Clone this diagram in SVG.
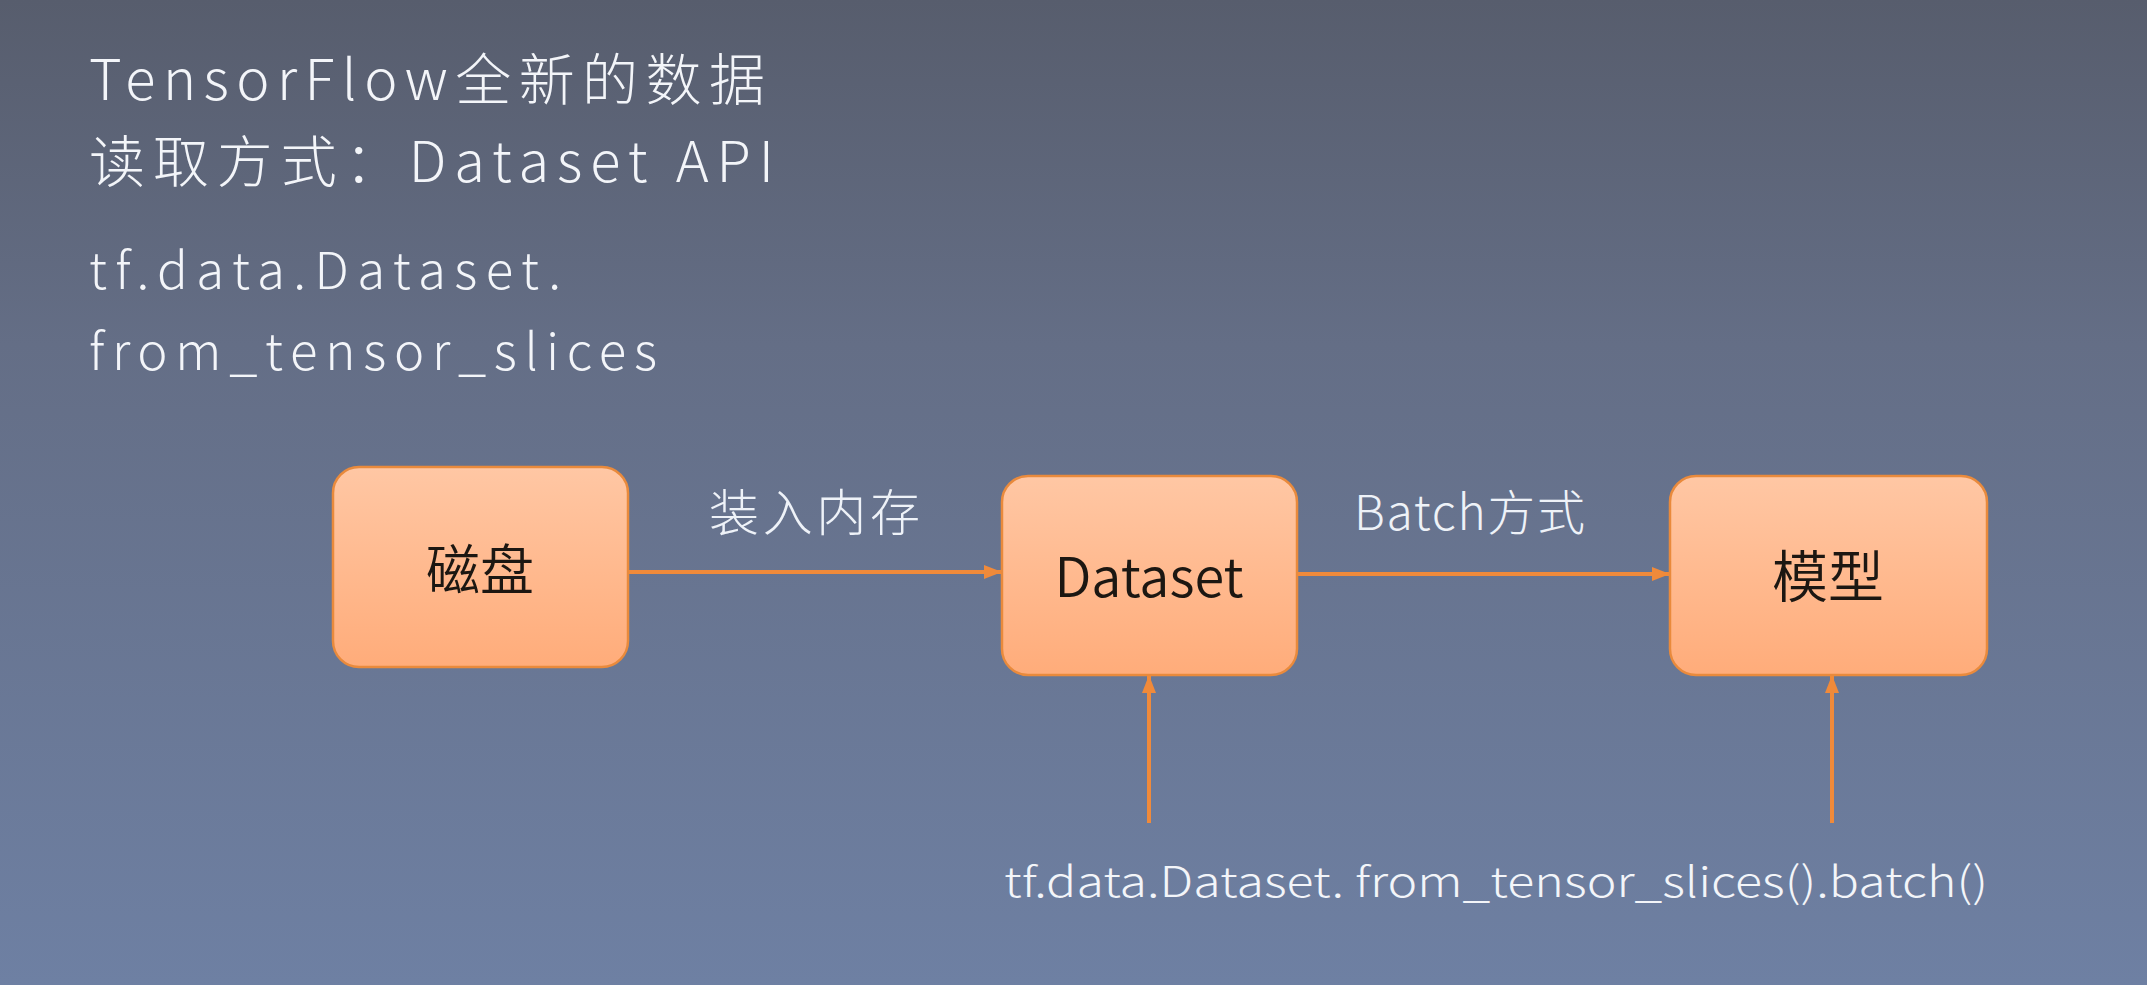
<svg xmlns="http://www.w3.org/2000/svg" width="2147" height="985" viewBox="0 0 2147 985">
  <defs>
    <linearGradient id="bg" x1="0" y1="0" x2="0" y2="1">
      <stop offset="0" stop-color="#575d6d"/>
      <stop offset="0.35" stop-color="#646e86"/>
      <stop offset="1" stop-color="#6e80a3"/>
    </linearGradient>
    <linearGradient id="box" x1="0" y1="0" x2="0" y2="1">
      <stop offset="0" stop-color="#ffc7a4"/>
      <stop offset="1" stop-color="#ffac7a"/>
    </linearGradient>
    <marker id="ah" markerUnits="userSpaceOnUse" markerWidth="20" markerHeight="16" refX="17" refY="7" orient="auto">
      <path d="M0,0 L18,7 L0,14 Z" fill="#f08a3a"/>
    </marker>
    <style>
      .box { fill: url(#box); stroke: #e98a3c; stroke-width: 2.5; }
      .lbl { font-family: "Noto Sans CJK SC", "Noto Sans", sans-serif; font-weight: 350; fill: #1c1712; text-anchor: middle; }
      .thin { font-family: "Noto Sans CJK SC", "Noto Sans", sans-serif; font-weight: 300; fill: #f3f5f9; }
      .elbl { font-family: "Noto Sans CJK SC", "Noto Sans", sans-serif; font-weight: 300; fill: #eef2f8; }
      .conn { stroke: #f08a3a; stroke-width: 4; fill: none; marker-end: url(#ah); }
    </style>
  </defs>
  <rect x="0" y="0" width="2147" height="985" fill="url(#bg)"/>

  <g id="title">
    <text class="thin" x="89" y="100" font-size="56" textLength="676" lengthAdjust="spacing">TensorFlow全新的数据</text>
    <text class="thin" x="89" y="182" font-size="56" textLength="685" lengthAdjust="spacing">读取方式：Dataset API</text>
    <text class="thin" x="89" y="289" font-size="51" textLength="472" lengthAdjust="spacing">tf.data.Dataset.</text>
    <text class="thin" x="89" y="370" font-size="51" textLength="568" lengthAdjust="spacing">from_tensor_slices</text>
  </g>

  <g id="connectors">
    <line class="conn" x1="628" y1="572" x2="1001" y2="572"/>
    <line class="conn" x1="1297" y1="574" x2="1669" y2="574"/>
    <line class="conn" x1="1149" y1="823" x2="1149" y2="676"/>
    <line class="conn" x1="1832" y1="823" x2="1832" y2="676"/>
    <text class="elbl" x="709" y="531" font-size="50" textLength="211" lengthAdjust="spacing">装入内存</text>
    <text class="elbl" x="1354" y="530" font-size="48" textLength="231" lengthAdjust="spacing">Batch方式</text>
    <text class="thin" x="1004" y="897" font-size="42" textLength="984" lengthAdjust="spacingAndGlyphs">tf.data.Dataset. from_tensor_slices().batch()</text>
  </g>

  <g id="node-disk">
    <rect class="box" x="333" y="467" width="295" height="200" rx="26" ry="26"/>
    <text class="lbl" x="480" y="590" font-size="54">磁盘</text>
  </g>

  <g id="node-dataset">
    <rect class="box" x="1002" y="476" width="295" height="199" rx="26" ry="26"/>
    <text class="lbl" x="1149" y="597" font-size="54">Dataset</text>
  </g>

  <g id="node-model">
    <rect class="box" x="1670" y="476" width="317" height="199" rx="26" ry="26"/>
    <text class="lbl" x="1828" y="597" font-size="56">模型</text>
  </g>
</svg>
